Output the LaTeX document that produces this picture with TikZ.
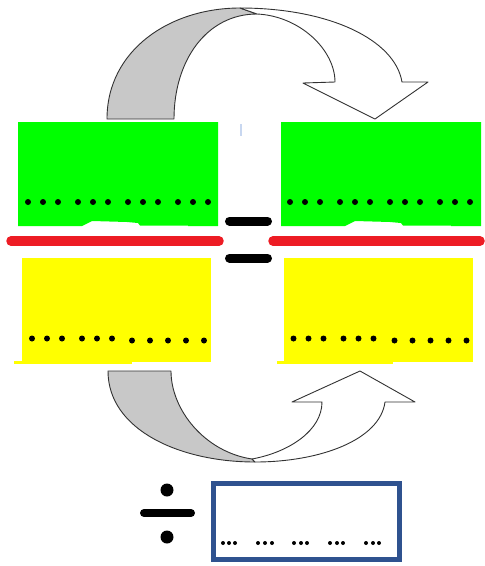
\documentclass[tikz,border=0pt]{standalone}
\definecolor{boxgreen}{RGB}{0,255,0}
\definecolor{boxyellow}{RGB}{255,255,0}
\definecolor{ribbonline}{RGB}{50,50,50}
\definecolor{ribbongray}{RGB}{200,200,200}
\definecolor{barred}{RGB}{237,28,36}
\definecolor{ansblue}{RGB}{47,82,143}
\definecolor{ticklight}{RGB}{200,215,240}
\begin{document}
\begin{tikzpicture}[x=1pt,y=-1pt,
  greenbox/.style={fill=boxgreen},
  yellowbox/.style={fill=boxyellow},
  bigdot/.style={fill=black},
  ribbon/.style={draw=ribbonline,line width=0.9pt,line join=round},
  backside/.style={ribbon,fill=ribbongray},
  frontside/.style={ribbon,fill=white},
  redline/.style={draw=barred,line width=9.5pt,line cap=round},
  minusbar/.style={draw=black,line width=9pt,line cap=round},
  ansbox/.style={draw=ansblue,line width=5pt}]
\useasboundingbox (0,0) rectangle (485,566);

% ---- top curved arrow ----
\path[backside] (107,119) -- (174,119) .. controls (174,60) and (207,14) .. (257,14)
  -- (240,8) .. controls (170,8) and (107,50) .. (107,119) -- cycle;
\path[frontside] (240,8) .. controls (330,8) and (395,40) .. (402,82) -- (428,82) -- (375,119)
  -- (303,83) -- (335,82) .. controls (335,50) and (300,16) .. (257,14) -- cycle;

% ---- green boxes ----
\foreach \s in {0,263}{
  \path[greenbox,shift={(\s,0)}] (18,122) -- (218,122) -- (218,226) -- (188,226) -- (188,225.5)
    -- (140,225.5) -- (138,223) -- (127,222) -- (92,221) -- (82,226) -- (18,226) -- cycle;
}
\foreach \x in {28,43,58,78,93,108,128,143,158,178,193,208}{
  \fill[bigdot] (\x,202) circle (3);
  \fill[bigdot] (\x+262,202) circle (3);
}

% small light-blue tick
\draw[ticklight,line width=1.5pt] (241,124) -- (241,136);

% ---- red fraction bars and equals sign ----
\draw[redline] (11,241) -- (219,241);
\draw[redline] (273,241) -- (480,241);
\draw[minusbar] (229.5,221) -- (267.5,221);
\draw[minusbar] (229.5,258) -- (267.5,258);

% ---- yellow boxes ----
\path[yellowbox] (22,258) rectangle (211,362);
\path[yellowbox] (14,361) rectangle (132,363.5);
\path[yellowbox] (284,258) rectangle (473,362);
\path[yellowbox] (277,361) rectangle (393,363.5);
\foreach \x in {32,47,62,82,97,112}{
  \fill[bigdot] (\x,338.5) circle (3);
  \fill[bigdot] (\x+261.5,338.5) circle (3);
}
\foreach \x in {132,150,168,186,204}{
  \fill[bigdot] (\x,340.5) circle (3);
  \fill[bigdot] (\x+262.5,340.5) circle (3);
}

% ---- bottom curved arrow ----
\path[backside] (108,371) -- (171,371) .. controls (171,410) and (205,452) .. (252,459)
  -- (255,462) .. controls (180,462) and (108,430) .. (108,371) -- cycle;
\path[frontside] (255,462) .. controls (320,462) and (380,440) .. (385,402) -- (415,402) -- (360,371)
  -- (292,402) -- (322,402) .. controls (322,430) and (290,452) .. (252,459) -- cycle;

% ---- division sign and answer box ----
\draw[black,line width=8pt,line cap=round] (144,513) -- (191,513);
\fill[black] (167,490) circle (6.5);
\fill[black] (167,537) circle (6.5);
\draw[ansbox] (213.5,483.5) rectangle (399.5,559.5);
\foreach \x in {223,229,235,258,265,272,294,301,307,330,337,343,366,373,379}{
  \fill[bigdot] (\x,543) circle (2);
}
\end{tikzpicture}
\end{document}
